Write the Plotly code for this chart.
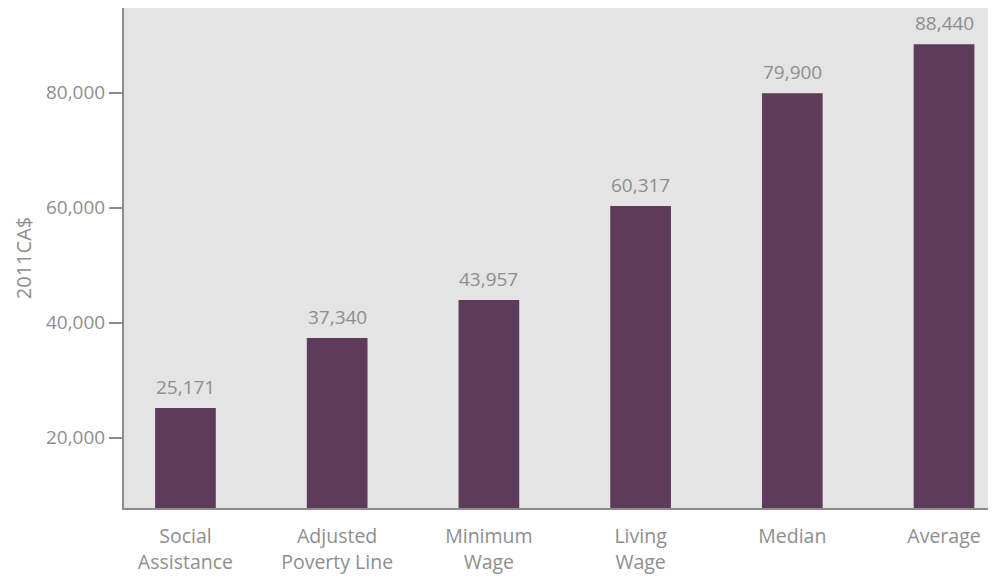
import plotly.graph_objects as go

categories = ["Social<br>Assistance", "Adjusted<br>Poverty Line", "Minimum<br>Wage",
              "Living<br>Wage", "Median", "Average"]
values = [25171, 37340, 43957, 60317, 79900, 88440]
tick_vals = [20000, 40000, 60000, 80000]
tick_text = ["20,000", "40,000", "60,000", "80,000"]
y_title = "2011CA$"

bar_color = "#5e3a5b"
text_color = "#8e8e8e"
font_family = "'Open Sans', Lato, sans-serif"

fig = go.Figure()
fig.add_trace(go.Bar(
    x=list(range(len(categories))),
    y=values,
    width=0.4,
    marker=dict(color=bar_color, line=dict(width=0)),
    hoverinfo="skip",
))

for i, v in enumerate(values):
    fig.add_annotation(
        x=i, y=v, text=f"{v:,}", showarrow=False,
        yanchor="bottom", yshift=6,
        font=dict(family=font_family, size=19, color=text_color),
    )

fig.update_layout(
    width=988, height=575,
    margin=dict(l=116, r=6, t=0, b=75),
    paper_bgcolor="white",
    plot_bgcolor="#e4e4e4",
    showlegend=False,
    font=dict(family=font_family, size=18, color=text_color),
    xaxis=dict(
        tickmode="array",
        tickvals=list(range(len(categories))),
        ticktext=categories,
        range=[-0.405, 5.303],
        showline=True, linecolor="#8c8c8c", linewidth=2,
        showgrid=False, zeroline=False, ticks="",
        ticklabelstandoff=10,
        tickfont=dict(family=font_family, size=19.5, color=text_color),
    ),
    yaxis=dict(
        range=[7774, 94730],
        tickmode="array",
        tickvals=tick_vals,
        ticktext=tick_text,
        showline=True, linecolor="#8c8c8c", linewidth=2,
        ticks="outside", ticklen=13, tickcolor="#8c8c8c", tickwidth=2,
        showgrid=False, zeroline=False,
        tickfont=dict(family=font_family, size=19, color=text_color),
        title=dict(text=y_title, standoff=9,
                   font=dict(family=font_family, size=20, color=text_color)),
    ),
)

fig.write_html("out.html")
